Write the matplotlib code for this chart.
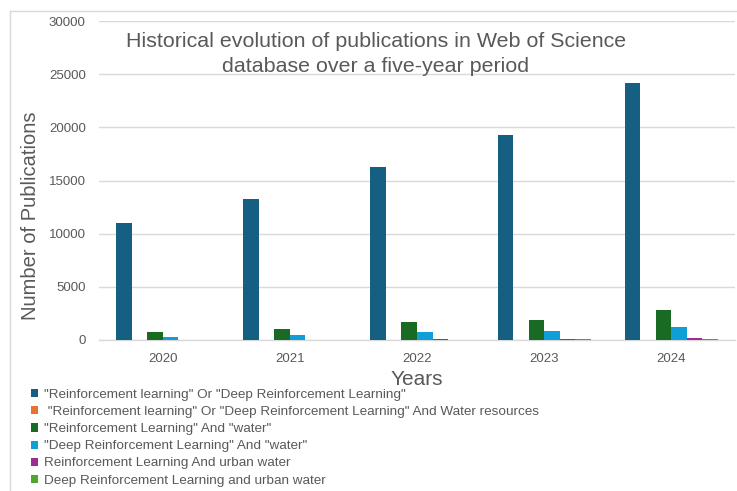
import numpy as np
import matplotlib
matplotlib.use("Agg")
from matplotlib import pyplot as plt
from matplotlib.lines import Line2D

# values
years = ["2020", "2021", "2022", "2023", "2024"]
rl_or_drl = [11000, 13300, 16300, 19300, 24200]
rl_drl_water_resources = [5, 5, 10, 10, 15]
rl_water = [780, 1000, 1720, 1840, 2780]
drl_water = [280, 470, 780, 850, 1180]
rl_urban_water = [20, 40, 100, 110, 190]
drl_urban_water = [10, 20, 40, 60, 100]

labels = [
    '"Reinforcement learning" Or "Deep Reinforcement Learning"',
    ' "Reinforcement learning" Or "Deep Reinforcement Learning" And Water resources',
    '"Reinforcement Learning" And "water"',
    '"Deep Reinforcement Learning" And "water"',
    'Reinforcement Learning And urban water',
    'Deep Reinforcement Learning and urban water',
]
colors = ["#156082", "#E97132", "#196B24", "#0F9ED5", "#A02B93", "#4EA72E"]
series = [rl_or_drl, rl_drl_water_resources, rl_water, drl_water,
          rl_urban_water, drl_urban_water]

grey = "#595959"
W, H = 737, 491

fig = plt.figure(figsize=(W / 100, H / 100), dpi=100)
ax = fig.add_axes([99 / W, 1 - 340 / H, 636 / W, 319 / H])

x = np.arange(len(years))
w = 0.122
handles = []
for i, (vals, c, lab) in enumerate(zip(series, colors, labels)):
    b = ax.bar(x + (i - 2.5) * w, vals, w, color=c, label=lab, zorder=3)
    handles.append(b)

ax.set_xlim(-0.5, 4.5)
ax.set_ylim(0, 30000)
ax.set_yticks(range(0, 30001, 5000))
ax.set_xticks(x)
ax.set_xticklabels(years)
ax.grid(axis="y", color="#D9D9D9", linewidth=1.0, zorder=0)
for s in ["top", "right", "left"]:
    ax.spines[s].set_visible(False)
ax.spines["bottom"].set_color("#D9D9D9")
ax.spines["bottom"].set_linewidth(1.0)
ax.tick_params(axis="both", length=0, colors=grey, labelsize=9.5)
ax.tick_params(axis="y", pad=9.5)
ax.tick_params(axis="x", pad=9)
for t in ax.get_xticklabels() + ax.get_yticklabels():
    t.set_fontfamily("Liberation Sans")

# y label sits lower than the axes centre in the reference
fig.text(31 / W, 1 - 216 / H, "Number of Publications", rotation=90,
         ha="center", va="center", fontsize=14.5, color=grey,
         fontfamily="Liberation Sans")
ax.set_xlabel("Years", fontsize=15, color=grey,
              fontfamily="Liberation Sans", labelpad=4)

fig.text(0.51, 1 - 54 / H,
         "Historical evolution of publications in Web of Science\ndatabase over a five-year period",
         ha="center", va="center", ma="center", fontsize=15.4, color=grey,
         fontfamily="Liberation Sans", linespacing=1.4)

leg = fig.legend(handles=handles, loc="upper left",
                 bbox_to_anchor=(31 / W, 1 - 389 / H), frameon=False,
                 prop={"family": "Liberation Sans", "size": 9.7},
                 handlelength=0.55, handleheight=0.55, handletextpad=0.4,
                 labelspacing=0.38, borderaxespad=0, borderpad=0)
for t in leg.get_texts():
    t.set_color(grey)

# thin frame of the chart area
fig.add_artist(Line2D([10 / W, 10 / W], [0, 1 - 11 / H], color="#D9D9D9", lw=1))
fig.add_artist(Line2D([10 / W, 1], [1 - 11 / H, 1 - 11 / H], color="#D9D9D9", lw=1))

fig.savefig("out.png", dpi=100)
